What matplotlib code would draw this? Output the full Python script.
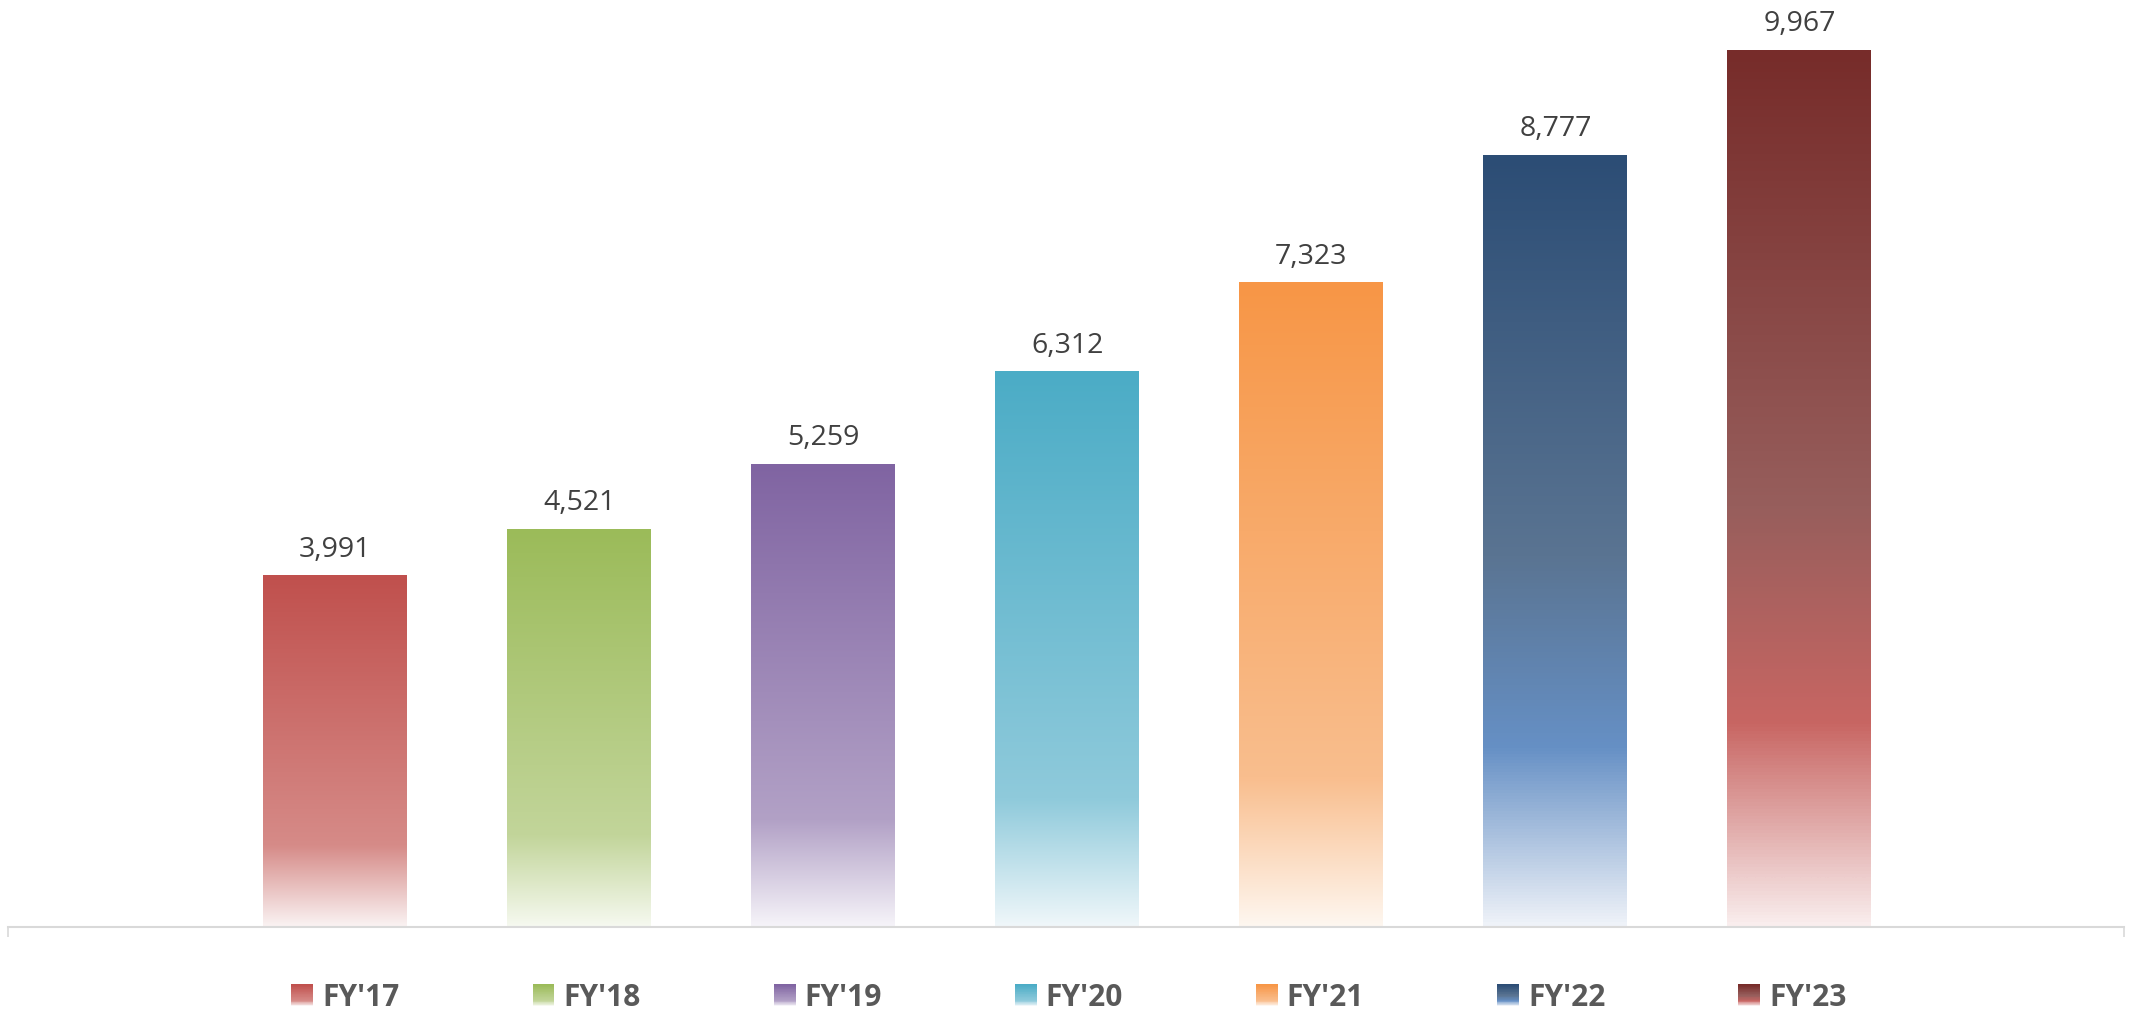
import matplotlib
matplotlib.use("Agg")
import matplotlib.pyplot as plt
import numpy as np
from matplotlib.colors import LinearSegmentedColormap
from matplotlib.patches import Patch, Rectangle
from matplotlib.legend_handler import HandlerBase

# data
years = ["FY'17", "FY'18", "FY'19", "FY'20", "FY'21", "FY'22", "FY'23"]
values = [3991, 4521, 5259, 6312, 7323, 8777, 9967]

# gradient stops per bar: top, (optional middle), lower-middle, bottom
top_colors = ["#C0504D", "#9BBB59", "#8064A2", "#4BACC6", "#F79646", "#2C4D75", "#772C2A"]
half_colors = [None, None, None, None, None, "#5A7492", "#975E5C"]
mid_colors = ["#D68B88", "#C2D59A", "#B2A1C6", "#8FCADB", "#F9BE8E", "#6690C5", "#C86663"]
low_colors = ["#FAF3F3", "#F6F9F0", "#F6F4F9", "#F0F7FA", "#FEF7F0", "#EEF2F8", "#F9EDED"]
fade_pos = 0.77

plt.rcParams['font.family'] = ['Open Sans', 'DejaVu Sans']


class GradPatch(Patch):
    def __init__(self, cmap, **kw):
        super().__init__(**kw)
        self.cmap = cmap


class GradHandler(HandlerBase):
    def create_artists(self, legend, orig_handle, xdescent, ydescent,
                       width, height, fontsize, trans):
        n = 30
        arts = []
        for k in range(n):
            y0 = -ydescent + height * (n - 1 - k) / n
            r = Rectangle((-xdescent, y0), width, height / n + 0.3,
                          facecolor=orig_handle.cmap(k / (n - 1)),
                          edgecolor='none', transform=trans)
            arts.append(r)
        return arts


fig = plt.figure(figsize=(21.38, 10.15), dpi=100)
ax = fig.add_axes([8 / 2138, 88 / 1015, 2116 / 2138, 927 / 1015])

x = np.arange(len(years))
bar_w = 0.59
grad = np.linspace(0, 1, 256).reshape(-1, 1)
cmaps = []
for i, v in enumerate(values):
    stops = [(0, top_colors[i])]
    if half_colors[i]:
        stops.append((0.52, half_colors[i]))
    stops += [(fade_pos, mid_colors[i]), (1, low_colors[i])]
    cm = LinearSegmentedColormap.from_list("g%d" % i, stops)
    cmaps.append(cm)
    ax.imshow(grad, cmap=cm, aspect='auto', origin='upper',
              extent=[x[i] - bar_w / 2, x[i] + bar_w / 2, 0, v],
              interpolation='bilinear', zorder=2)
    ax.annotate(f"{v:,}", (x[i], v), xytext=(0, 13.7), textcoords='offset points',
                ha='center', va='baseline', fontsize=20.5, color='#404040')

ax.set_xlim(-1.34, 7.33)
ax.set_ylim(0, 10540)

for s in ['top', 'left', 'right']:
    ax.spines[s].set_visible(False)
ax.spines['bottom'].set_color('#D9D9D9')
ax.spines['bottom'].set_linewidth(1.5)
ax.set_yticks([])
ax.set_xticks([-1.34, 7.33])
ax.set_xticklabels([])
ax.tick_params(axis='x', direction='out', length=7, width=1.2, color='#D9D9D9')

handles = [GradPatch(cm, label=y) for cm, y in zip(cmaps, years)]
fig.legend(handles=handles, labels=years, loc='center', bbox_to_anchor=(0.5, 0.0167),
           ncol=7, frameon=False, handler_map={GradPatch: GradHandler()},
           prop={'weight': 'bold', 'size': 21.5}, labelcolor='#595959',
           handlelength=0.735, handleheight=0.735, handletextpad=0.3,
           columnspacing=4.45)

fig.savefig("out.png", dpi=100, facecolor='white')
